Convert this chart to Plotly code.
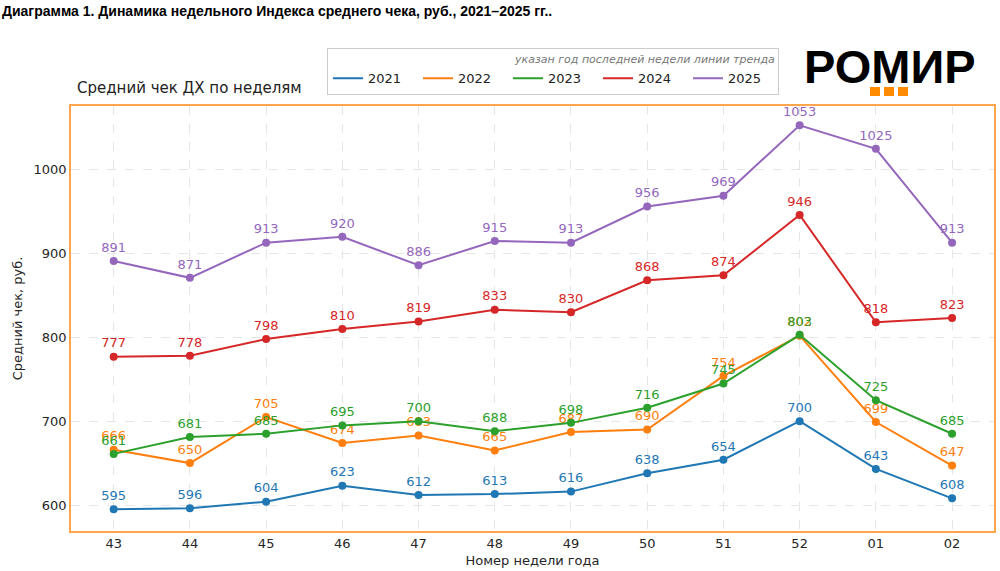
import plotly.graph_objects as go

weeks = ["43", "44", "45", "46", "47", "48", "49", "50", "51", "52", "01", "02"]
years = ["2021", "2022", "2023", "2024", "2025"]
v2021 = [595, 596, 604, 623, 612, 613, 616, 638, 654, 700, 643, 608]
v2022 = [666, 650, 705, 674, 683, 665, 687, 690, 754, 802, 699, 647]
v2023 = [661, 681, 685, 695, 700, 688, 698, 716, 745, 803, 725, 685]
v2024 = [777, 778, 798, 810, 819, 833, 830, 868, 874, 946, 818, 823]
v2025 = [891, 871, 913, 920, 886, 915, 913, 956, 969, 1053, 1025, 913]
series = [v2021, v2022, v2023, v2024, v2025]
colors = ["#1f77b4", "#ff7f0e", "#2ca02c", "#d62728", "#9467bd"]

FONT = "DejaVu Sans"
L, R, T, B = 71, 6, 106, 40
PW, PH = 1000 - L - R, 571 - T - B


def px(x):
    return (x - L) / PW


def py(y):
    return (571 - B - y) / PH


fig = go.Figure()
for name, vals, c in zip(years, series, colors):
    fig.add_trace(go.Scatter(
        x=list(range(len(weeks))), y=vals, name=name, mode="lines+markers+text",
        line=dict(color=c, width=2), marker=dict(color=c, size=8),
        text=[str(v) for v in vals], textposition="top center",
        textfont=dict(color=c, size=13, family=FONT), showlegend=False,
    ))
for name, c in zip(years, colors):
    fig.add_trace(go.Scatter(
        x=[None], y=[None], name=name, mode="lines",
        line=dict(color=c, width=2), showlegend=True,
    ))

fig.update_layout(
    width=1000, height=571,
    margin=dict(l=L, r=R, t=T, b=B, autoexpand=False),
    paper_bgcolor="white", plot_bgcolor="white",
    font=dict(family=FONT, color="#262626", size=12),
    showlegend=True,
    legend=dict(
        orientation="h", x=px(779), xanchor="right", y=py(48), yanchor="top",
        bordercolor="#cccccc", borderwidth=1, bgcolor="white",
        font=dict(size=13, family=FONT, color="#222222"),
        title=dict(text="<i>указан год последней недели линии тренда</i>", side="top right",
                   font=dict(size=11, color="#777777", family=FONT)),
        entrywidth=45, itemwidth=30, tracegroupgap=0,
    ),
    xaxis=dict(
        tickmode="array", tickvals=list(range(len(weeks))), ticktext=weeks,
        range=[-0.56, 11.55], showgrid=True, gridcolor="#e6e6e6", griddash="dash",
        showline=True, linecolor="#ffa64d", linewidth=1.5, mirror=True,
        ticks="", zeroline=False, tickfont=dict(size=13), automargin=False,
        title=dict(text="Номер недели года", font=dict(size=13), standoff=6),
    ),
    yaxis=dict(
        range=[569, 1076], tickvals=[600, 700, 800, 900, 1000],
        showgrid=True, gridcolor="#e6e6e6", griddash="dash",
        showline=True, linecolor="#ffa64d", linewidth=1.5, mirror=True,
        ticks="", zeroline=False, tickfont=dict(size=13), automargin=False,
        title=dict(text="Средний чек, руб.", font=dict(size=13), standoff=8),
    ),
)

fig.add_annotation(
    text="<b>Диаграмма 1. Динамика недельного Индекса среднего чека, руб., 2021–2025 гг..</b>",
    xref="paper", yref="paper", x=px(0), y=py(11), xanchor="left", yanchor="middle",
    showarrow=False, font=dict(family="Liberation Sans", size=14, color="black"),
)
fig.add_annotation(
    text="Средний чек ДХ по неделям", xref="paper", yref="paper",
    x=px(75), y=py(88), xanchor="left", yanchor="middle",
    showarrow=False, font=dict(family=FONT, size=15, color="#222222"),
)
fig.add_annotation(
    text="<b>РОМИР</b>", xref="paper", yref="paper",
    x=px(890), y=py(67), xanchor="center", yanchor="middle",
    showarrow=False, font=dict(family="Liberation Sans", size=47, color="black"),
)
for i in range(3):
    x0 = 870 + i * 14
    fig.add_shape(type="rect", xref="paper", yref="paper",
                  x0=px(x0), x1=px(x0 + 10), y0=py(96), y1=py(87),
                  fillcolor="#ff8c00", line=dict(width=0))

fig.write_html("out.html", config={"displayModeBar": False},
               post_script="document.body.style.margin='0px';")
